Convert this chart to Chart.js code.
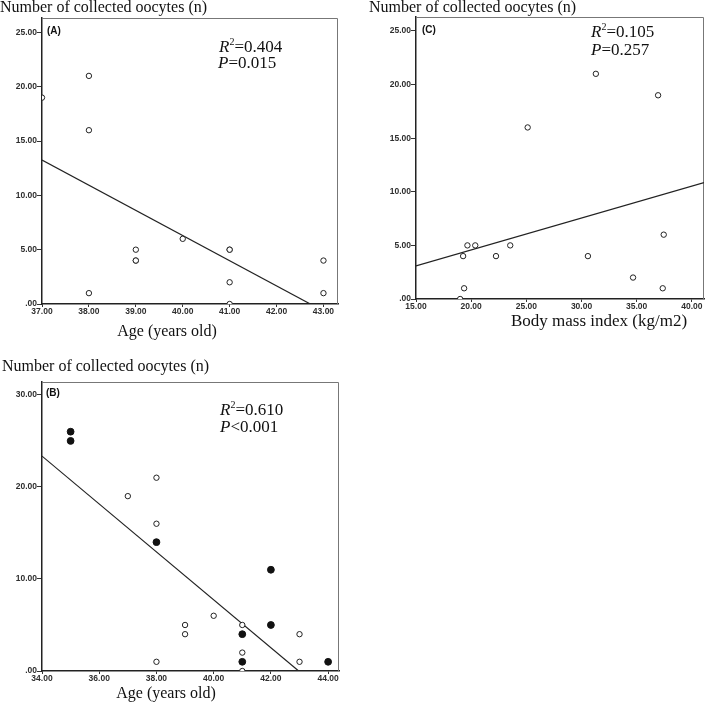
<!DOCTYPE html>
<html>
<head>
<meta charset="utf-8">
<script src="https://cdn.jsdelivr.net/npm/chart.js@4.4.1/dist/chart.umd.min.js"></script>
<style>
    html, body { margin: 0; padding: 0; background: #fff; }
    body { width: 709px; height: 705px; position: relative; overflow: hidden; }
    canvas { position: absolute; }
    #chartA { left: 0; top: 0; }
    #chartC { left: 355px; top: 0; }
    #chartB { left: 0; top: 350px; }
</style>
</head>
<body>
<canvas id="chartA" width="355" height="345"></canvas>
<canvas id="chartC" width="354" height="345"></canvas>
<canvas id="chartB" width="355" height="355"></canvas>
<script>
// Panel A - age vs collected oocytes
const ageA = [37, 38, 38, 38, 39, 39, 39, 40, 41, 41, 41, 41, 43, 43];
const oocytesA = [19, 21, 16, 1, 5, 4, 4, 6, 5, 5, 2, 0, 4, 1];
const fitAgeA = [37, 42.72];
const fitOocytesA = [13.25, 0];
const xTicksA = [37, 38, 39, 40, 41, 42, 43];
const yTicksA = [0, 5, 10, 15, 20, 25];

// Panel C - BMI vs collected oocytes
const bmiC = [19.0, 19.36, 19.27, 19.66, 20.37, 22.25, 23.54, 25.12, 30.58, 31.3, 34.67, 36.94, 37.45, 37.36];
const oocytesC = [0, 1, 4, 5, 5, 4, 5, 16, 4, 21, 2, 19, 6, 1];
const fitBmiC = [15, 41.1];
const fitOocytesC = [3.08, 10.85];
const xTicksC = [15, 20, 25, 30, 35, 40];
const yTicksC = [0, 5, 10, 15, 20, 25];

// Panel B - age vs collected oocytes, two groups
const ageBOpen = [37, 38, 38, 38, 39, 39, 40, 41, 41, 41, 43, 43];
const oocytesBOpen = [19, 21, 16, 1, 5, 4, 6, 5, 2, 0, 4, 1];
const ageBFilled = [35, 35, 38, 41, 41, 42, 42, 44];
const oocytesBFilled = [26, 25, 14, 4, 1, 11, 5, 1];
const fitAgeB = [34, 42.97];
const fitOocytesB = [23.35, 0];
const xTicksB = [34, 36, 38, 40, 42, 44];
const yTicksB = [0, 10, 20, 30];

const serif = '"Liberation Serif", "Times New Roman", serif';

function toPoints(xs, ys) {
    return xs.map((x, i) => ({ x: x, y: ys[i] }));
}

function fmtTick(value) {
    return value.toFixed(2).replace(/^0\./, '.');
}

function openDots(xs, ys) {
    return {
        data: toPoints(xs, ys),
        pointRadius: 2.7,
        pointBorderWidth: 1,
        pointBackgroundColor: '#fff',
        pointBorderColor: '#222',
        clip: 0
    };
}

function filledDots(xs, ys) {
    return {
        data: toPoints(xs, ys),
        pointRadius: 3.4,
        pointBorderWidth: 1,
        pointBackgroundColor: '#111',
        pointBorderColor: '#111',
        clip: 0
    };
}

function fitLine(xs, ys) {
    return {
        data: toPoints(xs, ys),
        showLine: true,
        pointRadius: 0,
        borderColor: '#222',
        borderWidth: 1.2,
        clip: 0
    };
}

// draws frame (top/right), titles, panel letter and stats text
const panelText = {
    id: 'panelText',
    beforeDatasetsDraw(chart) {
        const ctx = chart.ctx;
        const a = chart.chartArea;
        ctx.save();
        ctx.strokeStyle = '#777';
        ctx.lineWidth = 1;
        ctx.beginPath();
        ctx.moveTo(a.left, a.top + 0.5);
        ctx.lineTo(a.right - 0.5, a.top + 0.5);
        ctx.lineTo(a.right - 0.5, a.bottom);
        ctx.stroke();
        ctx.restore();
    },
    afterDraw(chart, args, opts) {
        const ctx = chart.ctx;
        ctx.save();
        ctx.fillStyle = '#111';
        ctx.textBaseline = 'alphabetic';
        ctx.textAlign = 'left';

        ctx.font = '16px ' + serif;
        ctx.fillText(opts.yTitle, opts.yTitleAt[0], opts.yTitleAt[1]);

        ctx.font = opts.xTitleSize + 'px ' + serif;
        ctx.textAlign = 'center';
        ctx.fillText(opts.xTitle, opts.xTitleAt[0], opts.xTitleAt[1]);
        ctx.textAlign = 'left';

        ctx.font = 'bold 10px "Liberation Sans", Arial, sans-serif';
        ctx.fillText(opts.letter, opts.letterAt[0], opts.letterAt[1]);

        opts.stats.forEach(s => {
            let x = s.at[0];
            const y = s.at[1];
            ctx.font = 'italic 17px ' + serif;
            ctx.fillText(s.sym, x, y);
            x += ctx.measureText(s.sym).width;
            if (s.sup) {
                ctx.font = '10px ' + serif;
                ctx.fillText(s.sup, x, y - 7);
                x += ctx.measureText(s.sup).width;
            }
            ctx.font = '17px ' + serif;
            ctx.fillText(s.rest, x, y);
        });
        ctx.restore();
    }
};

function axis(min, max, ticks, tickLength, size) {
    return {
        type: 'linear',
        min: min,
        max: max,
        afterBuildTicks: scale => { scale.ticks = ticks.map(v => ({ value: v })); },
        afterFit: scale => {
            if (scale.isHorizontal()) scale.height = size;
            else scale.width = size;
        },
        grid: {
            drawOnChartArea: false,
            drawTicks: true,
            tickLength: tickLength,
            tickColor: '#333',
            tickWidth: 1
        },
        border: { display: true, color: '#222', width: 1.5 },
        ticks: {
            padding: 0,
            color: '#2e2e2e',
            autoSkip: false,
            maxRotation: 0,
            font: { family: '"Liberation Sans", Arial, sans-serif', size: 8.5, weight: 'bold' },
            callback: fmtTick
        }
    };
}

function makePanel(id, datasets, cfg) {
    return new Chart(document.getElementById(id), {
        type: 'scatter',
        data: { datasets: datasets },
        options: {
            responsive: false,
            animation: false,
            events: [],
            layout: { padding: cfg.padding },
            plugins: {
                legend: { display: false },
                tooltip: { enabled: false },
                panelText: cfg.text
            },
            scales: {
                x: axis(cfg.x[0], cfg.x[1], cfg.xTicks, 3, cfg.xAxisHeight),
                y: axis(cfg.y[0], cfg.y[1], cfg.yTicks, 5, cfg.yAxisWidth)
            }
        },
        plugins: [panelText]
    });
}

// Panel A
makePanel('chartA', [openDots(ageA, oocytesA), fitLine(fitAgeA, fitOocytesA)], {
    padding: { left: 0, top: 18, right: 17, bottom: 0 },
    yAxisWidth: 42,
    xAxisHeight: 41,
    x: [37, 43.31], xTicks: xTicksA,
    y: [0, 26.33], yTicks: yTicksA,
    text: {
        yTitle: 'Number of collected oocytes (n)', yTitleAt: [0, 12],
        xTitle: 'Age (years old)', xTitleAt: [167, 336], xTitleSize: 16,
        letter: '(A)', letterAt: [47, 34],
        stats: [
            { sym: 'R', sup: '2', rest: '=0.404', at: [219, 52] },
            { sym: 'P', sup: '', rest: '=0.015', at: [218, 68] }
        ]
    }
});

// Panel C
makePanel('chartC', [openDots(bmiC, oocytesC), fitLine(fitBmiC, fitOocytesC)], {
    padding: { left: 0, top: 17, right: 1, bottom: 0 },
    yAxisWidth: 61,
    xAxisHeight: 46,
    x: [15, 41.1], xTicks: xTicksC,
    y: [0, 26.3], yTicks: yTicksC,
    text: {
        yTitle: 'Number of collected oocytes (n)', yTitleAt: [14, 12],
        xTitle: 'Body mass index (kg/m2)', xTitleAt: [244, 326], xTitleSize: 17,
        letter: '(C)', letterAt: [67, 33],
        stats: [
            { sym: 'R', sup: '2', rest: '=0.105', at: [236, 37] },
            { sym: 'P', sup: '', rest: '=0.257', at: [236, 55] }
        ]
    }
});

// Panel B
makePanel('chartB', [openDots(ageBOpen, oocytesBOpen), filledDots(ageBFilled, oocytesBFilled), fitLine(fitAgeB, fitOocytesB)], {
    padding: { left: 0, top: 32, right: 16, bottom: 0 },
    yAxisWidth: 42,
    xAxisHeight: 34,
    x: [34, 44.38], xTicks: xTicksB,
    y: [0, 31.4], yTicks: yTicksB,
    text: {
        yTitle: 'Number of collected oocytes (n)', yTitleAt: [2, 21],
        xTitle: 'Age (years old)', xTitleAt: [166, 348], xTitleSize: 16,
        letter: '(B)', letterAt: [46, 46],
        stats: [
            { sym: 'R', sup: '2', rest: '=0.610', at: [220, 65] },
            { sym: 'P', sup: '', rest: '<0.001', at: [220, 82] }
        ]
    }
});
</script>
</body>
</html>
